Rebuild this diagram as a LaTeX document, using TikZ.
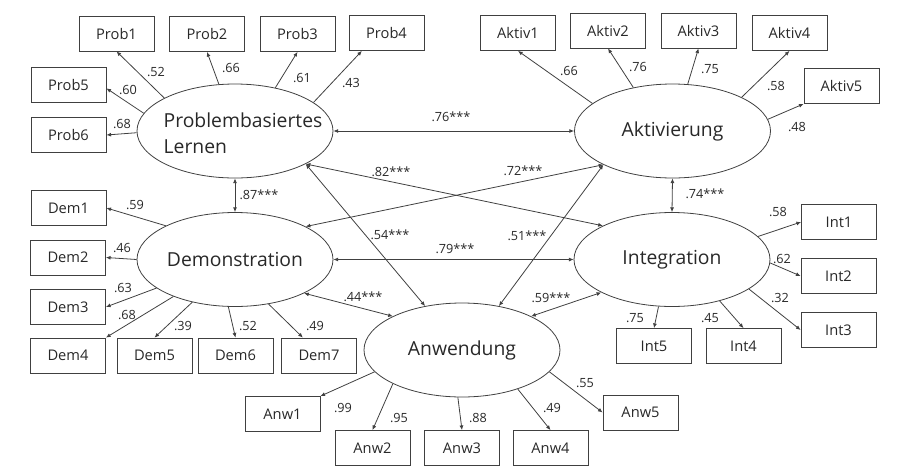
\documentclass[tikz,border=0pt]{standalone}
\usepackage{fontspec}
\setmainfont{Open Sans}
\usetikzlibrary{shapes.geometric,arrows.meta}
\definecolor{semgray}{RGB}{64,64,64}
\definecolor{semtext}{RGB}{40,40,40}
\tikzset{every picture/.style={line width=0.6pt}}
\tikzset{
  latent/.style={ellipse,draw=semgray,minimum width=147pt,minimum height=70.5pt,inner sep=0pt,
    text=semtext,font=\fontsize{14.5}{19.5}\selectfont},
  latenttext/.style={align=left,inner sep=0pt,text=semtext,font=\fontsize{14.5}{19.5}\selectfont},
  indicator/.style={rectangle,draw=semgray,minimum width=56.25pt,minimum height=26.25pt,inner sep=0pt,
    text=semtext,font=\fontsize{11}{13}\selectfont},
  coef/.style={text=semtext,inner sep=0.5pt,font=\fontsize{9.5}{11}\selectfont},
  load/.style={draw=semgray,-{Latex[length=3.5pt,width=3pt]}},
  corr/.style={draw=semgray,{Latex[length=3.5pt,width=3pt]}-{Latex[length=3.5pt,width=3pt]}}
}

\begin{document}
\begin{tikzpicture}[x=0.75pt,y=0.75pt,yscale=-1,xscale=1]
\useasboundingbox (0,0) rectangle (904,472);

%Shape: Ellipse (latent factors)
\node[latent,label={[latenttext,name=PLtext,xshift=6pt,yshift=-2pt]center:Problembasiertes\\Lernen}] (PL) at (235,131) {};
\node[latent] (Akt) at (672.5,131) {Aktivierung};
\node[latent] (Dem) at (235,259.5) {Demonstration};
\node[latent] (Int) at (672,259.5) {Integration};
\node[latent] (Anw) at (462,350) {Anwendung};

%Shape: Rectangle (indicators)
\node[indicator] (Prob1) at (116.5,33.5) {Prob1};
\node[indicator] (Prob2) at (207,34) {Prob2};
\node[indicator] (Prob3) at (297.5,34) {Prob3};
\node[indicator] (Prob4) at (386.5,33) {Prob4};
\node[indicator] (Prob5) at (68.5,85) {Prob5};
\node[indicator] (Prob6) at (68.5,135) {Prob6};

\node[indicator] (Aktiv1) at (518,33) {Aktiv1};
\node[indicator] (Aktiv2) at (608,30.5) {Aktiv2};
\node[indicator] (Aktiv3) at (698.5,30.5) {Aktiv3};
\node[indicator] (Aktiv4) at (789.5,33) {Aktiv4};
\node[indicator] (Aktiv5) at (841.5,86) {Aktiv5};

\node[indicator] (Dem1) at (68.5,208) {Dem1};
\node[indicator] (Dem2) at (68,257.5) {Dem2};
\node[indicator] (Dem3) at (68,307) {Dem3};
\node[indicator] (Dem4) at (68,355.5) {Dem4};
\node[indicator] (Dem5) at (154.5,355.5) {Dem5};
\node[indicator] (Dem6) at (235.5,355.5) {Dem6};
\node[indicator] (Dem7) at (319,355.5) {Dem7};

\node[indicator] (Int1) at (839,222) {Int1};
\node[indicator] (Int2) at (838.5,276) {Int2};
\node[indicator] (Int3) at (838.5,330) {Int3};
\node[indicator] (Int4) at (743.5,346) {Int4};
\node[indicator] (Int5) at (654,346) {Int5};

\node[indicator] (Anw1) at (282.5,414) {Anw1};
\node[indicator] (Anw2) at (372.5,448) {Anw2};
\node[indicator] (Anw3) at (462,448) {Anw3};
\node[indicator] (Anw4) at (550.5,448) {Anw4};
\node[indicator] (Anw5) at (640.5,412.5) {Anw5};

%Straight Lines (loadings)
\draw[load] (PL.155) -- (Prob1.south);
\draw[load] (PL.109) -- (Prob2.south);
\draw[load] (PL.47) -- (Prob3.south);
\draw[load] (PL.20) -- (Prob4.216);
\draw[load] (PL.169) -- (Prob5.355);
\draw[load] (PL.181) -- (Prob6.east);

\draw[load] (Akt.161) -- (Aktiv1.south);
\draw[load] (Akt.132) -- (Aktiv2.south);
\draw[load] (Akt.72) -- (Aktiv3.south);
\draw[load] (Akt.26) -- (Aktiv4.south);
\draw[load] (Akt.7) -- (Aktiv5.south west);

\draw[load] (Dem.154) -- (Dem1.east);
\draw[load] (Dem.180) -- (Dem2.east);
\draw[load] (Dem.200) -- (Dem3.east);
\draw[load] (Dem.211) -- (Dem4.north east);
\draw[load] (Dem.225) -- (Dem5.north);
\draw[load] (Dem.262) -- (Dem6.north);
\draw[load] (Dem.307) -- (Dem7.132);

\draw[load] (Int.15) -- (Int1.west);
\draw[load] (Int.358) -- (Int2.west);
\draw[load] (Int.339) -- (Int3.west);
\draw[load] (Int.319) -- (Int4.north);
\draw[load] (Int.254) -- (Int5.north);

\draw[load] (Anw.194) -- (Anw1.north east);
\draw[load] (Anw.206) -- (Anw2.north);
\draw[load] (Anw.265) -- (Anw3.north);
\draw[load] (Anw.325) -- (Anw4.north);
\draw[load] (Anw.346) -- (Anw5.west);

%Straight Lines (correlations)
\draw[corr] (PL.east) -- (Akt.west);
\draw[corr] (PL.south) -- (Dem.north);
\draw[corr] (PL.335) -- (Int.154);
\draw[corr] (PL.335) -- (Anw.130);
\draw[corr] (Akt.206) -- (Dem.25);
\draw[corr] (Akt.206) -- (Anw.50);
\draw[corr] (Akt.south) -- (Int.north);
\draw[corr] (Dem.east) -- (Int.west);
\draw[corr] (Dem.334) -- (Anw.154);
\draw[corr] (Int.205) -- (Anw.26);

% Text Node (loadings)
\node[coef] (lProb1) at (156,72) {.52};
\node[coef] (lProb2) at (231,68) {.66};
\node[coef] (lProb3) at (302,78) {.61};
\node[coef] (lProb4) at (351,83) {.43};
\node[coef] (lProb5) at (128,90) {.60};
\node[coef] (lProb6) at (122,124) {.68};

\node[coef] (lAktiv1) at (569,71) {.66};
\node[coef] (lAktiv2) at (638,67) {.76};
\node[coef] (lAktiv3) at (710,69) {.75};
\node[coef] (lAktiv4) at (776,86) {.58};
\node[coef] (lAktiv5) at (797,127) {.48};

\node[coef] (lDem1) at (135,205) {.59};
\node[coef] (lDem2) at (122,248) {.46};
\node[coef] (lDem3) at (123,288) {.63};
\node[coef] (lDem4) at (127,315) {.68};
\node[coef] (lDem5) at (183,326) {.39};
\node[coef] (lDem6) at (248,326) {.52};
\node[coef] (lDem7) at (315,326) {.49};

\node[coef] (lInt1) at (778,212) {.58};
\node[coef] (lInt2) at (782,259) {.62};
\node[coef] (lInt3) at (780,298) {.32};
\node[coef] (lInt4) at (710,318) {.45};
\node[coef] (lInt5) at (635,318) {.75};

\node[coef] (lAnw1) at (343,408) {.99};
\node[coef] (lAnw2) at (399,418) {.95};
\node[coef] (lAnw3) at (478,418) {.88};
\node[coef] (lAnw4) at (552,408) {.49};
\node[coef] (lAnw5) at (585,383) {.55};

% Text Node (correlations)
\node[coef] (cPLAkt) at (451,117) {.76***};
\node[coef] (cPLDem) at (259,195) {.87***};
\node[coef] (cPLInt) at (391,172) {.82***};
\node[coef] (cAktDem) at (523,171) {.72***};
\node[coef] (cPLAnw) at (390,235) {.54***};
\node[coef] (cAktAnw) at (527,236) {.51***};
\node[coef] (cDemInt) at (455,249) {.79***};
\node[coef] (cDemAnw) at (363,297) {.44***};
\node[coef] (cIntAnw) at (551,298) {.59***};
\node[coef] (cAktInt) at (705,194) {.74***};

\end{tikzpicture}
\end{document}
